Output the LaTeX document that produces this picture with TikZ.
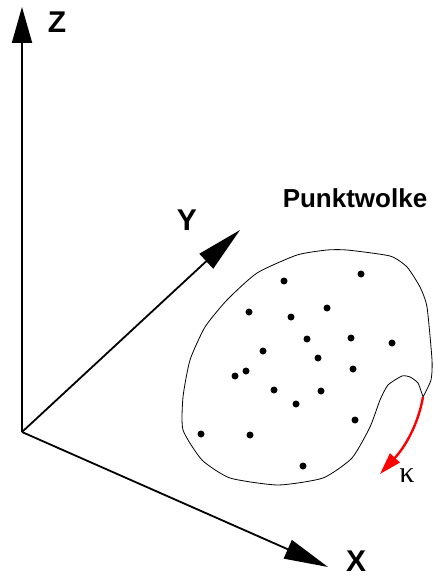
\documentclass[tikz,border=0pt]{standalone}
\usepackage{fontspec}
\setmainfont{Liberation Sans}
\newfontfamily\greekserif{Liberation Serif}
\usetikzlibrary{arrows.meta}

\begin{document}
\begin{tikzpicture}[
    x=1pt, y=-1pt,
    axis/.style={-{Triangle[length=#1,width=20pt]}, line width=1.8pt},
    axis/.default=36pt,
    axis_label/.style={font=\fontsize{30}{32}\selectfont\bfseries},
    dot/.style={circle, fill, inner sep=0pt, minimum size=7pt},
    curv/.style={-{Triangle[length=22pt,width=13pt]}, red, line width=2.4pt}
]
    \useasboundingbox (0,0) rectangle (433,577);
    % axes
    \coordinate (O) at (22,432);
    \coordinate (Zt) at (22,7);
    \coordinate (Yt) at (240,230);
    \coordinate (Xt) at (328,567);
    \node[axis_label] (Z) at (57,22) {Z};
    \node[axis_label] (Y) at (187,220) {Y};
    \node[axis_label] (X) at (356,561) {X};
    \draw [axis] (O) -- (Zt);
    \draw [axis=46pt] (O) -- (Yt);
    \draw [axis=44pt] (O) -- (Xt);
    % cloud
    \node[font=\fontsize{26}{28}\selectfont\bfseries] (PW) at (355,198) {Punktwolke};
    \draw[line width=0.8pt] plot[smooth, tension=0.35] coordinates {
        (423,397) (431,380) (432,360) (427,307) (420,287) (407,267) (390,256)
        (347,250) (327,250) (297,255) (257,273) (227,300) (205,327) (190,360)
        (183,397) (183,430) (202,460) (230,478) (278,485) (323,478) (352,458)
        (370,427) (380,400) (388,385) (402,376) (410,377) (418,383) (423,397)};
    \foreach \p [count=\i] in {(361,274),(284,281),(249,312),(291,317),(327,308),
        (307,339),(351,338),(392,343),(263,351),(318,358),(353,369),(246,371),
        (235,376),(274,390),(321,391),(296,404),(355,420),(201,434),(250,435),(303,466)}
        \node[dot] (p\i) at \p {};
    % curvature
    \coordinate (Ks) at (423,397);
    \coordinate (Ke) at (380,474);
    \node (K) at (407,476) {\greekserif\fontsize{30}{32}\selectfont κ};
    \draw [curv] (Ks) .. controls (418,425) and (405,447) .. (Ke);
\end{tikzpicture}
\end{document}
